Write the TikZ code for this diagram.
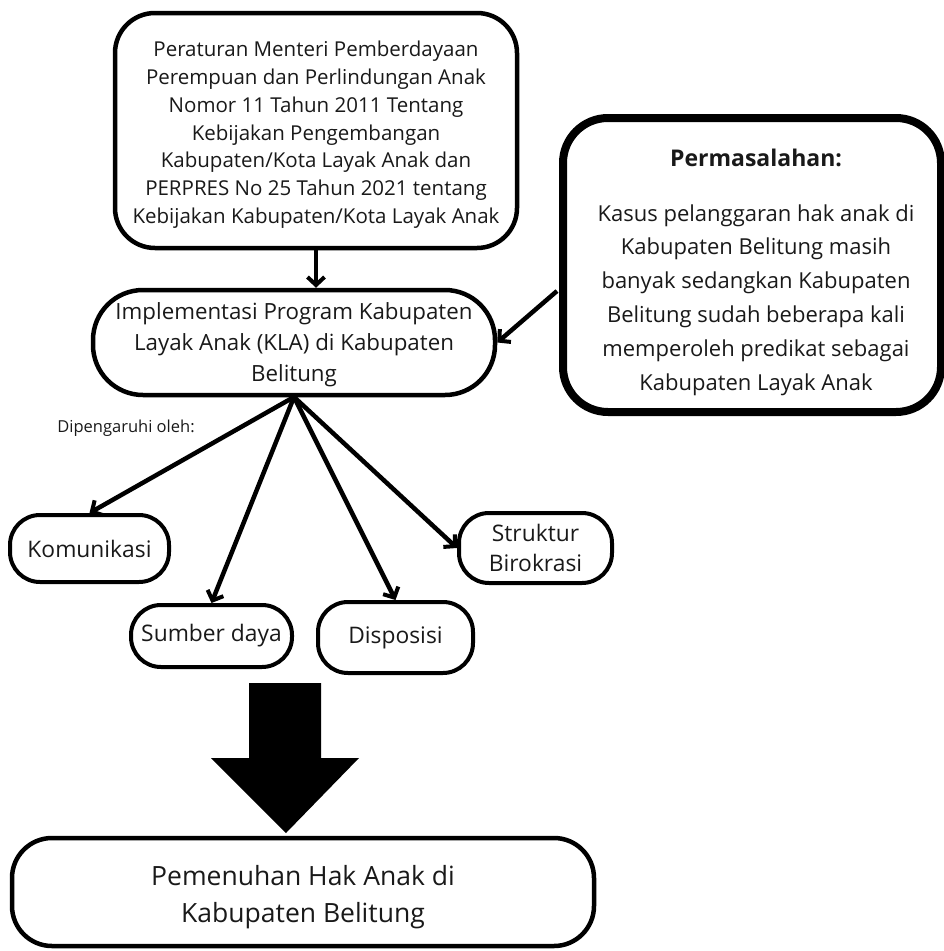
\documentclass[tikz,border=0pt]{standalone}
\usepackage{fontspec}
\setmainfont{Open Sans}
\usetikzlibrary{arrows.meta}
\begin{document}
\begin{tikzpicture}[x=1pt,y=-1pt,
  box/.style={draw=black, line width=4.5pt, rounded corners=#1, inner sep=0pt, align=center},
  box/.default=40pt,
  arr/.style={line width=4.5pt, -{Straight Barb[length=8pt,width=17pt,line width=4pt]}},
  txt/.style={align=center, inner sep=0pt, text=black!90}
]
\useasboundingbox (0,0) rectangle (944,951);

% top box
\node[box=40pt, minimum width=402pt, minimum height=235pt, txt, font=\fontsize{20.5}{27.8}\selectfont] (top) at (316,130.5)
  {\rule{0pt}{24pt}Peraturan Menteri Pemberdayaan\\
   Perempuan dan Perlindungan Anak\\
   Nomor 11 Tahun 2011 Tentang\\
   Kebijakan Pengembangan\\
   Kabupaten/Kota Layak Anak dan\\
   PERPRES No 25 Tahun 2021 tentang\\
   Kebijakan Kabupaten/Kota Layak Anak};

% problem box
\node[box=45pt, line width=8pt, minimum width=378pt, minimum height=294pt] (prob) at (752,265) {};
\node[txt, font=\fontsize{22}{33.8}\selectfont] (probtext) at (756,272)
  {{\fontsize{23}{33.8}\selectfont\textbf{Permasalahan:}}\\[21pt]
   Kasus pelanggaran hak anak di\\
   Kabupaten Belitung masih\\
   banyak sedangkan Kabupaten\\
   Belitung sudah beberapa kali\\
   memperoleh predikat sebagai\\
   Kabupaten Layak Anak};

% implementation box
\node[box=50pt, minimum width=402pt, minimum height=105pt, txt, font=\fontsize{22.3}{31}\selectfont] (impl) at (294,342.5)
  {\rule{0pt}{21pt}Implementasi Program Kabupaten\\
   Layak Anak (KLA) di Kabupaten\\
   Belitung};

\node[txt, font=\fontsize{16.5}{19}\selectfont] (dip) at (126,428) {Dipengaruhi oleh:};

% factor boxes
\tikzset{fac/.style={box=30pt, line width=4pt, txt, font=\fontsize{22.8}{30}\selectfont}}
\node[fac, minimum width=159pt, minimum height=67pt] (kom) at (89.5,548.5) {Komunikasi};
\node[fac, minimum width=161pt, minimum height=62pt] (sum) at (211.5,636) {Sumber daya};
\node[fac, minimum width=155pt, minimum height=71pt] (dis) at (395.5,637.5) {Disposisi};
\node[fac, minimum width=153pt, minimum height=70pt] (str) at (535.5,548) {Struktur\\Birokrasi};

% bottom box
\node[box=40pt, minimum width=582pt, minimum height=108pt, txt, font=\fontsize{26.5}{37}\selectfont] (res) at (303,892)
  {\rule{0pt}{30pt}Pemenuhan Hak Anak di\\Kabupaten Belitung};

% connectors
\draw[arr] (top.south) -- (impl.north -| top.south);
\coordinate (pa) at (557,291);
\draw[arr] (pa) -- (impl.east);
\coordinate (fan) at (294,397);
\draw[arr] (fan) -- (kom.north);
\draw[arr] (fan) -- (sum.north);
\draw[arr] (fan) -- (dis.north);
\draw[arr] (fan) -- (str.west);

% big block arrow
\fill[black] (249,683) -- (321,683) -- (321,758) -- (359,758) -- (286,833) -- (211,758) -- (249,758) -- cycle;
\end{tikzpicture}
\end{document}
